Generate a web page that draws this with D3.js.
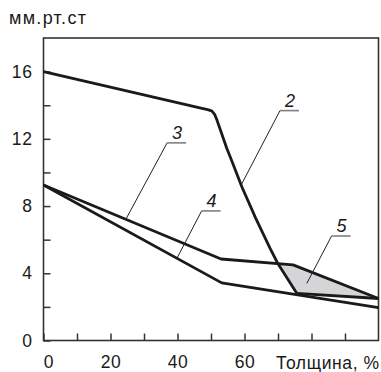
<!DOCTYPE html>
<html>
<head>
<meta charset="utf-8">
<script src="https://cdn.jsdelivr.net/npm/d3@7"></script>
<style>
    body { margin: 0; background: #fff; }
    svg { display: block; font-family: "Liberation Sans", Arial, sans-serif; }
</style>
</head>
<body>
<svg id="chart" width="381" height="372"></svg>
<script>
// x = толщина, %, y = мм.рт.ст
const xTicks = [0, 10, 20, 30, 40, 50, 60, 70, 80, 90];
const xLabels = [0, 20, 40, 60];
const yTicks = [0, 2, 4, 6, 8, 10, 12, 14, 16];
const yLabels = [0, 4, 8, 12, 16];

const curve2 = [[0, 16], [47, 13.83], [49, 13.74], [50.2, 13.66], [51.1, 13.45], [51.8, 13.1],
    [53.2, 12.3], [54.7, 11.44], [55.9, 10.85], [59.2, 9.15], [63.3, 7.3], [67.6, 5.5],
    [70, 4.56], [75.6, 2.81]];
const tail2 = [[75.6, 2.81], [100, 2.5]];
const curve3 = [[0, 9.25], [53, 4.85], [74.5, 4.5], [100, 2.5]];
const curve4 = [[0, 9.25], [53.2, 3.43], [100, 1.95]];

// leader lines: text, end point on the chart, start of the underline
const notes = [
    { text: '2', ax: 59, ay: 9.25, lx: 70.6, ly: 13.68 },
    { text: '3', ax: 24.6, ay: 7.22, lx: 36.9, ly: 11.76 },
    { text: '4', ax: 39.8, ay: 4.88, lx: 47.2, ly: 7.71 },
    { text: '5', ax: 78.6, ay: 3.4, lx: 86.0, ly: 6.22 }
];

const svg = d3.select('#chart');
const x = d3.scaleLinear().domain([0, 100]).range([43.5, 378.5]);
const y = d3.scaleLinear().domain([0, 18]).range([340.5, 38]);

const line = d3.line().x(d => x(d[0])).y(d => y(d[1]));

// shaded zone 5: between curve 2, its tail and curve 3
const cross = curve2.find(d => d[0] === 70);
const shade = curve2.filter(d => d[0] >= cross[0])
    .concat([tail2[1]])
    .concat(curve3.filter(d => d[0] > cross[0] && d[0] < 100).reverse());
svg.append('path')
    .attr('d', line(shade) + 'Z')
    .attr('fill', '#d5d5d7')
    .attr('stroke', 'none');

// frame
svg.append('rect')
    .attr('x', x(0)).attr('y', y(18))
    .attr('width', x(100) - x(0)).attr('height', y(0) - y(18))
    .attr('fill', 'none')
    .attr('stroke', '#333')
    .attr('stroke-width', 1.6);

const yAxis = svg.append('g')
    .attr('transform', `translate(${x(0)},0)`)
    .call(d3.axisLeft(y).tickValues(yTicks).tickSize(-7).tickPadding(11)
        .tickFormat(d => yLabels.includes(d) ? d : ''));
const xAxis = svg.append('g')
    .attr('transform', `translate(0,${y(0)})`)
    .call(d3.axisBottom(x).tickValues(xTicks).tickSize(-7).tickPadding(15)
        .tickFormat(d => xLabels.includes(d) ? d : ''));

[yAxis, xAxis].forEach(g => {
    g.select('.domain').remove();
    g.selectAll('.tick line').attr('stroke', '#333').attr('stroke-width', 1.5);
    g.selectAll('.tick text')
        .attr('fill', '#1a1a1a')
        .style('font-size', '17.5px')
        .style('letter-spacing', '0.6px');
});
xAxis.selectAll('.tick text').filter(d => d === 0).attr('dx', 5);

svg.append('text')
    .attr('x', 276).attr('y', 369)
    .attr('fill', '#1a1a1a')
    .style('font-size', '17.5px')
    .style('letter-spacing', '0.6px')
    .text('Толщина, %');

svg.append('text')
    .attr('x', 9).attr('y', 24)
    .attr('fill', '#1a1a1a')
    .style('font-size', '18px')
    .style('letter-spacing', '1.3px')
    .text('мм.рт.ст');

// curves
[curve2, tail2, curve3, curve4].forEach(c => {
    svg.append('path')
        .attr('d', line(c))
        .attr('fill', 'none')
        .attr('stroke', '#1a1a1a')
        .attr('stroke-width', 2.8)
        .attr('stroke-linejoin', 'round');
});

// numbered callouts
const note = svg.selectAll('.note').data(notes).enter().append('g').attr('class', 'note');
note.append('line')
    .attr('x1', d => x(d.ax)).attr('y1', d => y(d.ay))
    .attr('x2', d => x(d.lx)).attr('y2', d => y(d.ly))
    .attr('stroke', '#222').attr('stroke-width', 1);
note.append('line')
    .attr('x1', d => x(d.lx)).attr('y1', d => y(d.ly))
    .attr('x2', d => x(d.lx) + 19).attr('y2', d => y(d.ly))
    .attr('stroke', '#808080').attr('stroke-width', 1.6);
note.append('text')
    .attr('x', d => x(d.lx) + 10).attr('y', d => y(d.ly) - 4)
    .attr('text-anchor', 'middle')
    .attr('fill', '#1a1a1a')
    .style('font-size', '18px')
    .style('font-style', 'italic')
    .text(d => d.text);
</script>
</body>
</html>
